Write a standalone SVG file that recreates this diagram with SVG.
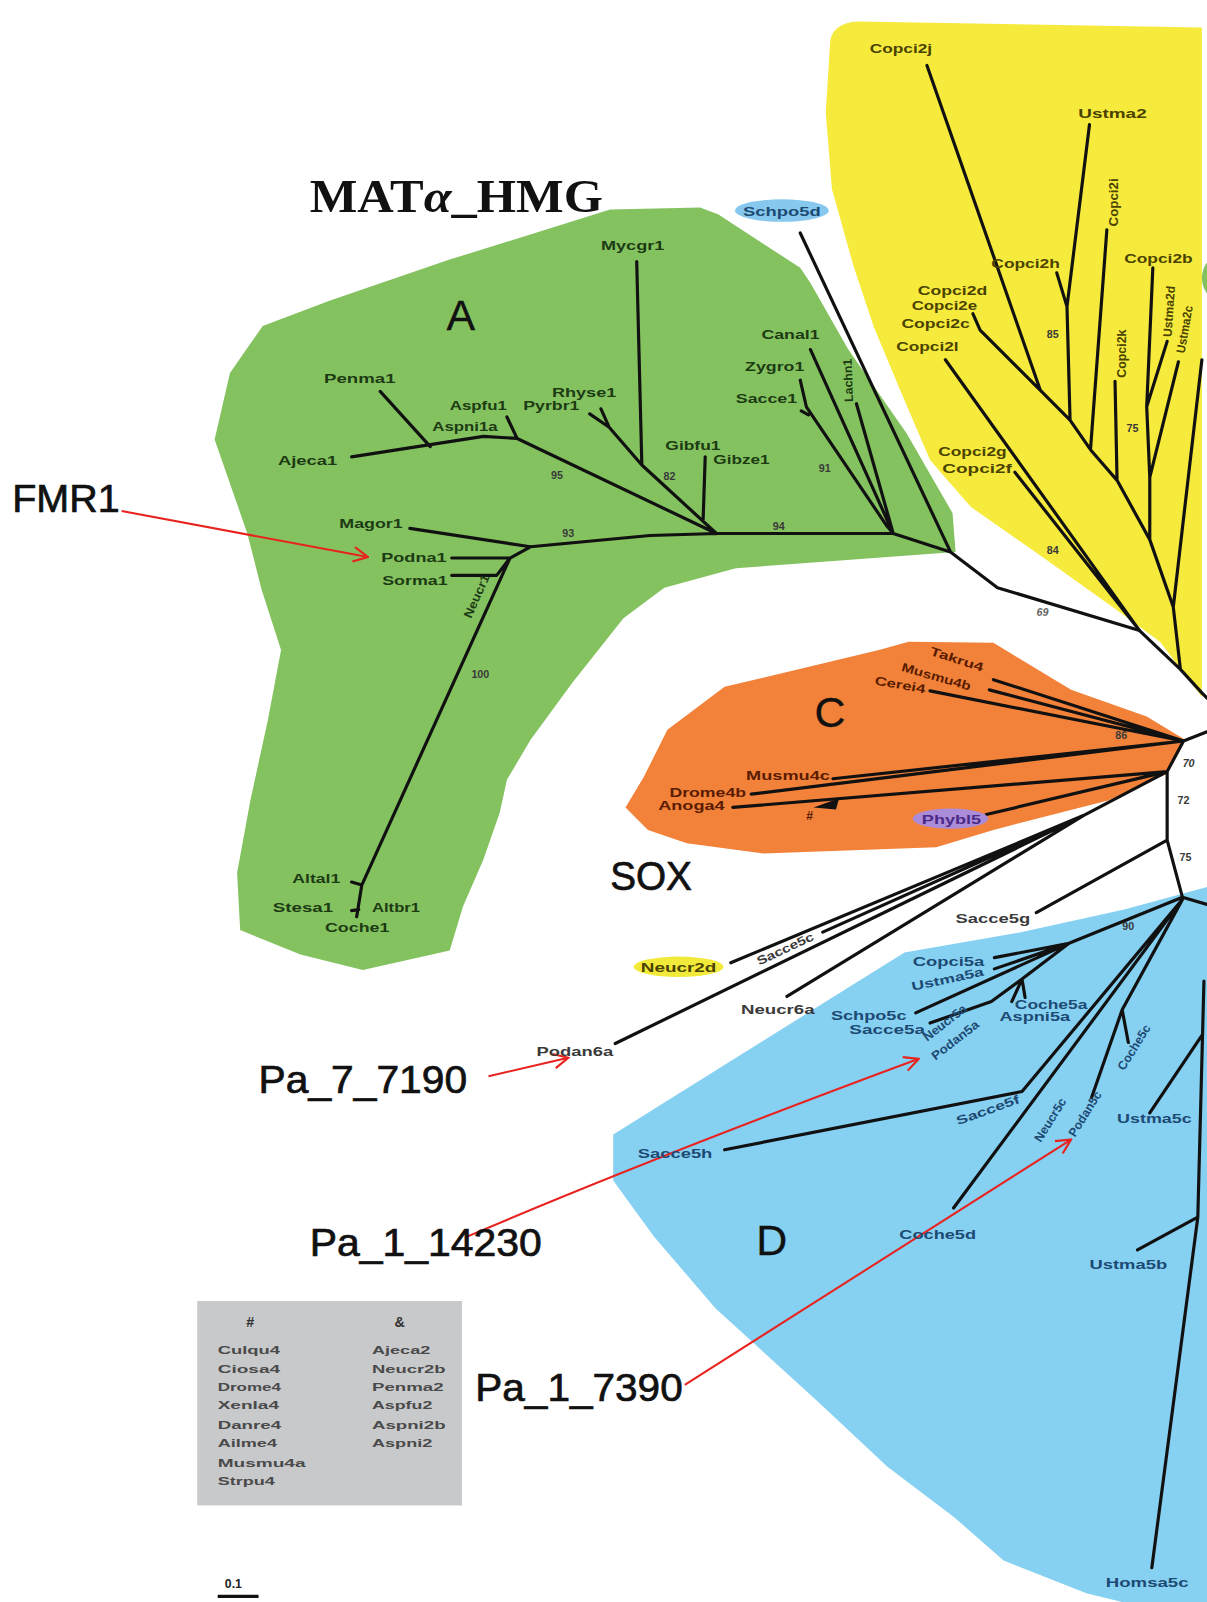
<svg xmlns="http://www.w3.org/2000/svg" width="1207" height="1602" viewBox="0 0 1207 1602">
<defs>
<style>
.lb{font-family:"Liberation Sans",Arial,sans-serif;font-size:12px;font-weight:bold}
.g{fill:#1d3b13}.y{fill:#4a4200}.o{fill:#5a1c00}.b{fill:#1c4a72}.k{fill:#3a3a3a}
.num{font-family:"Liberation Sans",Arial,sans-serif;font-size:10.5px;font-weight:bold;fill:#3a3a3a;text-anchor:middle}
.big{font-family:"Liberation Sans",Arial,sans-serif;fill:#111;stroke:#111;stroke-width:0.7}
.br{fill:none;stroke:#111;stroke-width:3.1;stroke-linecap:round;stroke-linejoin:round}
.red{fill:none;stroke:#e8231f;stroke-width:2}
.lg{font-family:"Liberation Sans",Arial,sans-serif;font-size:11px;font-weight:bold;fill:#4a4a4a}
</style>
<marker id="ah" viewBox="0 0 12 12" refX="11" refY="6" markerWidth="17" markerHeight="17" markerUnits="userSpaceOnUse" orient="auto">
<path d="M1,1 L11,6 L1,11" fill="none" stroke="#e8231f" stroke-width="1.5"/>
</marker>
</defs>
<rect width="1207" height="1602" fill="#fff"/>
<g transform="scale(1.02202)">
<g id="regions">
<path id="clade-B" d="M812,45 Q812,22 840,21 L1176,27 L1176,682 L1135,628 L1090,595 L1020,545 L950,496 L910,450 L880,380 L855,320 L835,260 L814,185 L808,110 Z" fill="#f6ea3c"/>
<ellipse cx="1194" cy="272" rx="18" ry="22" fill="#84c260"/>
<polygon id="clade-A" points="257,319 225,365 210,430 242,522 256,577 275,636 262,705 245,783 232,854 235,910 294,934 355,949 440,930 453,887 473,841 489,795 496,763 519,724 560,668 610,605 650,575 720,556 935,540 932,502 887,424 830,342 793,277 783,262 703,210 685,203 597,205 440,254 323,294" fill="#84c260"/>
<polygon id="clade-C" points="612,790 630,760 653,714 709,672 860,636 889,628 972,629 1048,675 1122,701 1160,724 1142,757 1085,783 972,812 916,829 747,835 672,825 634,812" fill="#f2823a"/>
<polygon id="clade-D" points="600,1110 805,982 885,932 1000,912 1100,890 1181,868 1181,1568 1100,1568 1063,1559 982,1527 933,1484 868,1435 802,1373 700,1280 640,1210 600,1155" fill="#86d0f2"/>
<rect id="legend-box" x="193" y="1273" width="259" height="200" fill="#c8c9cb"/>
</g>
<g id="connectors">
<path class="br" d="M372,383 L421,437 M344,447 L421,435 L473,427 L506,429 M496,408 L506,429 M506,429 L701,522 M623,256 L628,455 M588,400 L596,418 M577,405 L596,418 L628,455 L701,522 M690,447 L688,508 M519,535 L636,524 L701,522 L874,522 M401,517 L519,535 M442,546 L499,546 M442,563 L486,563 L499,546 L519,535 M499,546 L354,866 L349,897 M344,863 L354,866 M344,891 L351,890 M793,342 L874,522 M783,372 L789,398 L868,515 L874,522 M784,402 L791,406 M838,395 L874,522 M874,522 L930,540 M783,228 L930,540 L976,575 L1115,617"/>
<path class="br" d="M925,352 L1115,617 M993,462 L1115,617 L1155,655 L1176,678 L1181,683 M1018,382 L1047,411 L1067,440 L1093,470 L1125,528 L1148,594 L1155,655 M907,64 L1018,382 M952,307 L959,323 L1018,382 M1066,122 L1044,300 L1047,411 M1034,267 L1044,300 M1083,225 L1067,440 M1091,373 L1093,470 M1128,262 L1122,398 L1125,467 L1125,528 M1142,334 L1122,398 M1153,354 L1125,467 M1176,352 L1148,594"/>
<path class="br" d="M972,665 L1158,725 M968,675 L1158,725 M910,676 L1158,725 M815,762 L1158,725 M735,777 L1158,725 M717,790 L1142,755 M965,797 L1142,755 L1158,725 L1181,716 M1142,755 L1142,822 L1157,878 L1181,885 M1014,893 L1142,822 M715,942 L1060,798 M805,912 L1060,798 M602,1021 L1060,798 M770,975 L1060,798 L1142,755"/>
<path class="br" d="M1157,878 L1046,923 M973,937 L1046,923 M973,948 L1046,923 M896,991 L1046,923 M1000,958 L1046,923 M1003,976 L1000,958 M990,980 L1000,958 M910,1001 L970,980 L1000,958 M709,1125 L1000,1068 L1157,880 M933,1182 L1157,880 M1068,1074 L1098,988 M1104,1020 L1098,988 L1157,880 M1125,1089 L1176,1013 M1178,960 L1172,1191 M1113,1223 L1172,1191 L1127,1534"/>
<polygon points="796,790 821,781 818,792" fill="#111"/>
<path class="red" d="M119,500 L360,545" marker-end="url(#ah)"/>
<path class="red" d="M478,1053 L556,1035" marker-end="url(#ah)"/>
<path class="red" d="M457,1210 Q640,1132 899,1036" marker-end="url(#ah)"/>
<path class="red" d="M670,1355 L1048,1115" marker-end="url(#ah)"/>
<line x1="213" y1="1562" x2="253" y2="1562" stroke="#111" stroke-width="3"/>
</g>
<g id="titles">
<text x="303" y="207" font-family="Liberation Serif,Times New Roman,serif" font-size="46" font-weight="bold" fill="#111" textLength="287" lengthAdjust="spacingAndGlyphs">MAT<tspan font-style="italic">α</tspan>_HMG</text>
<text class="big" x="12" y="501" font-size="38" textLength="105" lengthAdjust="spacingAndGlyphs">FMR1</text>
<text class="big" x="597" y="871" font-size="40" textLength="80" lengthAdjust="spacingAndGlyphs">SOX</text>
<text class="big" x="253" y="1069" font-size="38" textLength="204" lengthAdjust="spacingAndGlyphs">Pa_7_7190</text>
<text class="big" x="303" y="1229" font-size="38" textLength="227" lengthAdjust="spacingAndGlyphs">Pa_1_14230</text>
<text class="big" x="465" y="1371" font-size="38" textLength="203" lengthAdjust="spacingAndGlyphs">Pa_1_7390</text>
<text class="big" x="437" y="323" font-size="42" style="stroke-width:0.3">A</text>
<text class="big" x="797" y="711" font-size="42" style="stroke-width:0.3">C</text>
<text class="big" x="740" y="1228" font-size="42" style="stroke-width:0.3">D</text>
</g>
<g id="n-Mycgr1"><text class="lb g" x="588" y="245" textLength="62" lengthAdjust="spacingAndGlyphs">Mycgr1</text></g>
<g id="n-Penma1"><text class="lb g" x="317" y="375" textLength="70" lengthAdjust="spacingAndGlyphs">Penma1</text></g>
<g id="n-Aspfu1"><text class="lb g" x="440" y="401" textLength="56" lengthAdjust="spacingAndGlyphs">Aspfu1</text></g>
<g id="n-Aspni1a"><text class="lb g" x="423" y="422" textLength="64" lengthAdjust="spacingAndGlyphs">Aspni1a</text></g>
<g id="n-Rhyse1"><text class="lb g" x="540" y="388" textLength="63" lengthAdjust="spacingAndGlyphs">Rhyse1</text></g>
<g id="n-Pyrbr1"><text class="lb g" x="512" y="401" textLength="55" lengthAdjust="spacingAndGlyphs">Pyrbr1</text></g>
<g id="n-Ajeca1"><text class="lb g" x="272" y="455" textLength="58" lengthAdjust="spacingAndGlyphs">Ajeca1</text></g>
<g id="n-Gibfu1"><text class="lb g" x="651" y="440" textLength="54" lengthAdjust="spacingAndGlyphs">Gibfu1</text></g>
<g id="n-Gibze1"><text class="lb g" x="698" y="454" textLength="55" lengthAdjust="spacingAndGlyphs">Gibze1</text></g>
<g id="n-Canal1"><text class="lb g" x="745" y="332" textLength="57" lengthAdjust="spacingAndGlyphs">Canal1</text></g>
<g id="n-Zygro1"><text class="lb g" x="729" y="363" textLength="58" lengthAdjust="spacingAndGlyphs">Zygro1</text></g>
<g id="n-Sacce1"><text class="lb g" x="720" y="394" textLength="60" lengthAdjust="spacingAndGlyphs">Sacce1</text></g>
<g id="n-Lachn1"><text class="lb g" transform="translate(834,372) rotate(-92)" x="0" y="0" text-anchor="middle" textLength="42" lengthAdjust="spacingAndGlyphs">Lachn1</text></g>
<g id="n-Magor1"><text class="lb g" x="332" y="517" textLength="62" lengthAdjust="spacingAndGlyphs">Magor1</text></g>
<g id="n-Podna1"><text class="lb g" x="373" y="550" textLength="64" lengthAdjust="spacingAndGlyphs">Podna1</text></g>
<g id="n-Sorma1"><text class="lb g" x="374" y="572" textLength="64" lengthAdjust="spacingAndGlyphs">Sorma1</text></g>
<g id="n-Neucr1"><text class="lb g" transform="translate(470,585) rotate(-66)" x="0" y="0" text-anchor="middle" textLength="45" lengthAdjust="spacingAndGlyphs">Neucr1</text></g>
<g id="n-Altal1"><text class="lb g" x="286" y="864" textLength="47" lengthAdjust="spacingAndGlyphs">Altal1</text></g>
<g id="n-Stesa1"><text class="lb g" x="267" y="892" textLength="59" lengthAdjust="spacingAndGlyphs">Stesa1</text></g>
<g id="n-Altbr1"><text class="lb g" x="364" y="892" textLength="47" lengthAdjust="spacingAndGlyphs">Altbr1</text></g>
<g id="n-Coche1"><text class="lb g" x="318" y="912" textLength="63" lengthAdjust="spacingAndGlyphs">Coche1</text></g>
<g id="n-Schpo5d"><ellipse cx="765" cy="206" rx="46" ry="11" fill="#86c8ee"/><text class="lb b" x="727" y="211" textLength="76" lengthAdjust="spacingAndGlyphs">Schpo5d</text></g>
<g id="n-Copci2j"><text class="lb y" x="851" y="52" textLength="61" lengthAdjust="spacingAndGlyphs">Copci2j</text></g>
<g id="n-Ustma2"><text class="lb y" x="1055" y="115" textLength="67" lengthAdjust="spacingAndGlyphs">Ustma2</text></g>
<g id="n-Copci2h"><text class="lb y" x="970" y="262" textLength="67" lengthAdjust="spacingAndGlyphs">Copci2h</text></g>
<g id="n-Copci2b"><text class="lb y" x="1100" y="257" textLength="67" lengthAdjust="spacingAndGlyphs">Copci2b</text></g>
<g id="n-Copci2d"><text class="lb y" x="898" y="289" textLength="68" lengthAdjust="spacingAndGlyphs">Copci2d</text></g>
<g id="n-Copci2e"><text class="lb y" x="892" y="303" textLength="64" lengthAdjust="spacingAndGlyphs">Copci2e</text></g>
<g id="n-Copci2c"><text class="lb y" x="882" y="321" textLength="67" lengthAdjust="spacingAndGlyphs">Copci2c</text></g>
<g id="n-Copci2l"><text class="lb y" x="877" y="343" textLength="61" lengthAdjust="spacingAndGlyphs">Copci2l</text></g>
<g id="n-Copci2g"><text class="lb y" x="918" y="446" textLength="67" lengthAdjust="spacingAndGlyphs">Copci2g</text></g>
<g id="n-Copci2f"><text class="lb y" x="922" y="463" textLength="68" lengthAdjust="spacingAndGlyphs">Copci2f</text></g>
<g id="n-Copci2i"><text class="lb y" transform="translate(1094,198) rotate(-90)" x="0" y="0" text-anchor="middle" textLength="47" lengthAdjust="spacingAndGlyphs">Copci2i</text></g>
<g id="n-Copci2k"><text class="lb y" transform="translate(1102,346) rotate(-90)" x="0" y="0" text-anchor="middle" textLength="47" lengthAdjust="spacingAndGlyphs">Copci2k</text></g>
<g id="n-Ustma2d"><text class="lb y" transform="translate(1148,305) rotate(-86)" x="0" y="0" text-anchor="middle" textLength="50" lengthAdjust="spacingAndGlyphs">Ustma2d</text></g>
<g id="n-Ustma2c"><text class="lb y" transform="translate(1163,323) rotate(-80)" x="0" y="0" text-anchor="middle" textLength="47" lengthAdjust="spacingAndGlyphs">Ustma2c</text></g>
<g id="n-Takru4"><text class="lb o" transform="translate(935,649) rotate(18)" x="0" y="0" text-anchor="middle" textLength="54" lengthAdjust="spacingAndGlyphs">Takru4</text></g>
<g id="n-Musmu4b"><text class="lb o" transform="translate(915,666) rotate(16)" x="0" y="0" text-anchor="middle" textLength="70" lengthAdjust="spacingAndGlyphs">Musmu4b</text></g>
<g id="n-Cerei4"><text class="lb o" transform="translate(880,674) rotate(10)" x="0" y="0" text-anchor="middle" textLength="50" lengthAdjust="spacingAndGlyphs">Cerei4</text></g>
<g id="n-Musmu4c"><text class="lb o" x="730" y="763" textLength="82" lengthAdjust="spacingAndGlyphs">Musmu4c</text></g>
<g id="n-Drome4b"><text class="lb o" x="655" y="780" textLength="75" lengthAdjust="spacingAndGlyphs">Drome4b</text></g>
<g id="n-Anoga4"><text class="lb o" x="644" y="793" textLength="65" lengthAdjust="spacingAndGlyphs">Anoga4</text></g>
<g id="n-hash"><text class="lb o" x="789" y="802">#</text></g>
<g id="n-Phybl5"><ellipse cx="930" cy="801" rx="37" ry="10" fill="#ab8cd8"/><text class="lb" fill="#4a2a86" x="902" y="806" textLength="58" lengthAdjust="spacingAndGlyphs">Phybl5</text></g>
<g id="n-Neucr2d"><ellipse cx="664" cy="946" rx="44" ry="10" fill="#f2ea3a"/><text class="lb y" x="627" y="951" textLength="74" lengthAdjust="spacingAndGlyphs">Neucr2d</text></g>
<g id="n-Sacce5c"><text class="lb k" transform="translate(770,932) rotate(-25)" x="0" y="0" text-anchor="middle" textLength="60" lengthAdjust="spacingAndGlyphs">Sacce5c</text></g>
<g id="n-Neucr6a"><text class="lb k" x="725" y="992" textLength="72" lengthAdjust="spacingAndGlyphs">Neucr6a</text></g>
<g id="n-Podan6a"><text class="lb k" x="525" y="1033" textLength="75" lengthAdjust="spacingAndGlyphs">Podan6a</text></g>
<g id="n-Sacce5g"><text class="lb k" x="935" y="903" textLength="73" lengthAdjust="spacingAndGlyphs">Sacce5g</text></g>
<g id="n-Copci5a"><text class="lb b" x="893" y="945" textLength="70" lengthAdjust="spacingAndGlyphs">Copci5a</text></g>
<g id="n-Ustma5a"><text class="lb b" transform="translate(928,962) rotate(-12)" x="0" y="0" text-anchor="middle" textLength="72" lengthAdjust="spacingAndGlyphs">Ustma5a</text></g>
<g id="n-Schpo5c"><text class="lb b" x="813" y="998" textLength="74" lengthAdjust="spacingAndGlyphs">Schpo5c</text></g>
<g id="n-Sacce5a"><text class="lb b" x="831" y="1012" textLength="74" lengthAdjust="spacingAndGlyphs">Sacce5a</text></g>
<g id="n-Neucr5a"><text class="lb b" transform="translate(927,1004) rotate(-38)" x="0" y="0" text-anchor="middle" textLength="50" lengthAdjust="spacingAndGlyphs">Neucr5a</text></g>
<g id="n-Podan5a"><text class="lb b" transform="translate(937,1021) rotate(-38)" x="0" y="0" text-anchor="middle" textLength="55" lengthAdjust="spacingAndGlyphs">Podan5a</text></g>
<g id="n-Coche5a"><text class="lb b" x="993" y="987" textLength="71" lengthAdjust="spacingAndGlyphs">Coche5a</text></g>
<g id="n-Aspni5a"><text class="lb b" x="978" y="999" textLength="69" lengthAdjust="spacingAndGlyphs">Aspni5a</text></g>
<g id="n-Sacce5f"><text class="lb b" transform="translate(968,1090) rotate(-20)" x="0" y="0" text-anchor="middle" textLength="65" lengthAdjust="spacingAndGlyphs">Sacce5f</text></g>
<g id="n-Sacce5h"><text class="lb b" x="624" y="1133" textLength="73" lengthAdjust="spacingAndGlyphs">Sacce5h</text></g>
<g id="n-Neucr5c"><text class="lb b" transform="translate(1031,1098) rotate(-58)" x="0" y="0" text-anchor="middle" textLength="48" lengthAdjust="spacingAndGlyphs">Neucr5c</text></g>
<g id="n-Podan5c"><text class="lb b" transform="translate(1065,1092) rotate(-58)" x="0" y="0" text-anchor="middle" textLength="50" lengthAdjust="spacingAndGlyphs">Podan5c</text></g>
<g id="n-Coche5c"><text class="lb b" transform="translate(1113,1027) rotate(-58)" x="0" y="0" text-anchor="middle" textLength="50" lengthAdjust="spacingAndGlyphs">Coche5c</text></g>
<g id="n-Ustma5c"><text class="lb b" x="1093" y="1099" textLength="73" lengthAdjust="spacingAndGlyphs">Ustma5c</text></g>
<g id="n-Coche5d"><text class="lb b" x="880" y="1212" textLength="75" lengthAdjust="spacingAndGlyphs">Coche5d</text></g>
<g id="n-Ustma5b"><text class="lb b" x="1066" y="1242" textLength="76" lengthAdjust="spacingAndGlyphs">Ustma5b</text></g>
<g id="n-Homsa5c"><text class="lb b" x="1082" y="1553" textLength="81" lengthAdjust="spacingAndGlyphs">Homsa5c</text></g>
<g id="support">
<text class="num" x="545" y="469">95</text>
<text class="num" x="655" y="470">82</text>
<text class="num" x="807" y="462">91</text>
<text class="num" x="556" y="525">93</text>
<text class="num" x="762" y="519">94</text>
<text class="num" x="470" y="663">100</text>
<text class="num" x="1030" y="331">85</text>
<text class="num" x="1108" y="423">75</text>
<text class="num" x="1030" y="542">84</text>
<text class="num" x="1020" y="603" font-style="italic" style="fill:#666">69</text>
<text class="num" x="1097" y="723">86</text>
<text class="num" x="1163" y="750" font-style="italic">70</text>
<text class="num" x="1158" y="787">72</text>
<text class="num" x="1160" y="842">75</text>
<text class="num" x="1104" y="910">90</text>
</g>
<g id="legend">
<text class="lg" x="241" y="1298" style="font-size:14px;fill:#333">#</text>
<text class="lg" x="386" y="1298" style="font-size:14px;fill:#333">&amp;</text>
<text class="lg" x="213" y="1325" textLength="61" lengthAdjust="spacingAndGlyphs">Culqu4</text>
<text class="lg" x="213" y="1343" textLength="61" lengthAdjust="spacingAndGlyphs">Ciosa4</text>
<text class="lg" x="213" y="1361" textLength="62" lengthAdjust="spacingAndGlyphs">Drome4</text>
<text class="lg" x="213" y="1379" textLength="60" lengthAdjust="spacingAndGlyphs">Xenla4</text>
<text class="lg" x="213" y="1398" textLength="62" lengthAdjust="spacingAndGlyphs">Danre4</text>
<text class="lg" x="213" y="1416" textLength="58" lengthAdjust="spacingAndGlyphs">Ailme4</text>
<text class="lg" x="213" y="1435" textLength="86" lengthAdjust="spacingAndGlyphs">Musmu4a</text>
<text class="lg" x="213" y="1453" textLength="56" lengthAdjust="spacingAndGlyphs">Strpu4</text>
<text class="lg" x="364" y="1325" textLength="57" lengthAdjust="spacingAndGlyphs">Ajeca2</text>
<text class="lg" x="364" y="1343" textLength="72" lengthAdjust="spacingAndGlyphs">Neucr2b</text>
<text class="lg" x="364" y="1361" textLength="70" lengthAdjust="spacingAndGlyphs">Penma2</text>
<text class="lg" x="364" y="1379" textLength="59" lengthAdjust="spacingAndGlyphs">Aspfu2</text>
<text class="lg" x="364" y="1398" textLength="72" lengthAdjust="spacingAndGlyphs">Aspni2b</text>
<text class="lg" x="364" y="1416" textLength="59" lengthAdjust="spacingAndGlyphs">Aspni2</text>
<text class="lg" x="220" y="1554" style="font-size:12px;fill:#222">0.1</text>
</g>
</g>
</svg>
